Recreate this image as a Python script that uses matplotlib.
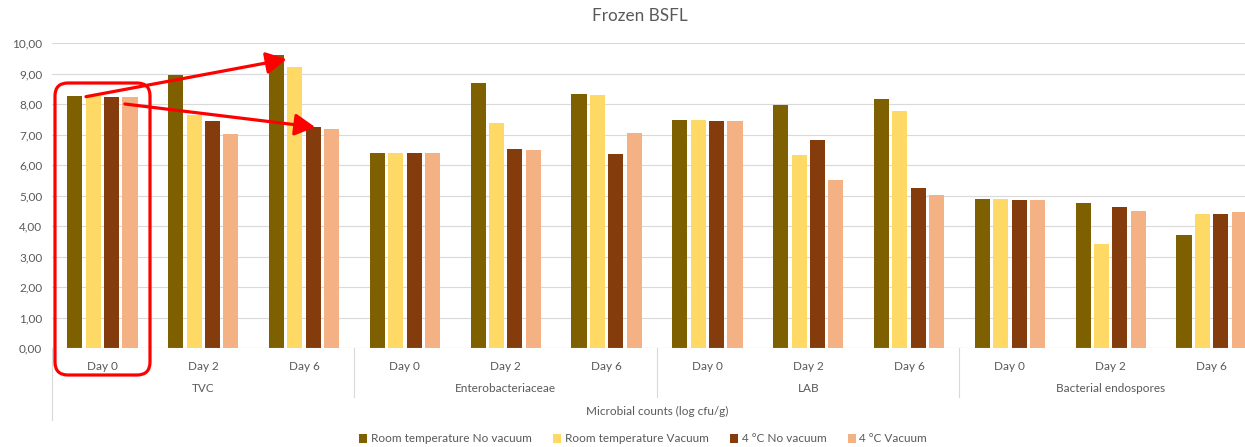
import matplotlib
matplotlib.use('Agg')
import matplotlib.pyplot as plt
from matplotlib.patches import FancyBboxPatch
from matplotlib.transforms import IdentityTransform, blended_transform_factory
import numpy as np

plt.rcParams['font.family'] = ['Lato', 'DejaVu Sans']

# data
days = ['Day 0', 'Day 2', 'Day 6']
microbes = ['TVC', 'Enterobacteriaceae', 'LAB', 'Bacterial endospores']
series_names = ['Room temperature No vacuum', 'Room temperature Vacuum',
                '4 °C No vacuum', '4 °C Vacuum']
rt_novac = [8.27, 8.94, 9.61, 6.40, 8.69, 8.32, 7.46, 7.97, 8.17, 4.87, 4.75, 3.71]
rt_vac = [8.26, 7.65, 9.21, 6.40, 7.37, 8.28, 7.46, 6.33, 7.76, 4.87, 3.42, 4.39]
c4_novac = [8.24, 7.43, 7.24, 6.38, 6.54, 6.36, 7.43, 6.82, 5.24, 4.84, 4.62, 4.39]
c4_vac = [8.23, 7.03, 7.19, 6.38, 6.50, 7.06, 7.43, 5.50, 5.01, 4.84, 4.48, 4.47]
colors = ['#7F6000', '#FFD966', '#843C0C', '#F4B183']

grey = '#595959'
W, H = 1245, 447
fig = plt.figure(figsize=(W/100, H/100), dpi=100)
# the screenshot cuts the plot on the right, so the axes run past the figure edge
ax = fig.add_axes([52/W, (H-348)/H, 1210/W, 305/H])

n = len(days)*len(microbes)
x = np.arange(n)
step = 0.182
allvals = [rt_novac, rt_vac, c4_novac, c4_vac]
for i, vals in enumerate(allvals):
  ax.bar(x + (i-1.5)*step, vals, width=0.15, color=colors[i], label=series_names[i], zorder=3)

ax.set_xlim(-0.5, n-0.5)
ax.set_ylim(0, 10)
ax.set_yticks(np.arange(0, 11, 1))
ax.set_yticklabels(['%d,00' % v for v in range(11)], fontsize=8.5, color=grey)
ax.yaxis.grid(True, color='#d9d9d9', lw=0.8, zorder=0)
ax.tick_params(axis='y', length=0, pad=7)
for s in ax.spines.values():
  s.set_visible(False)
ax.axhline(0, color='#d9d9d9', lw=0.8, zorder=4)

ax.set_xticks(x)
ax.set_xticklabels(days*len(microbes), fontsize=8.5, color=grey)
ax.tick_params(axis='x', length=0, pad=9)

# multi-level category axis
tr = blended_transform_factory(ax.transData, ax.transAxes)
ax.plot([-0.5, -0.5], [0, -72/305], transform=tr, color='#d9d9d9', lw=0.8, clip_on=False)
for b in [2.5, 5.5, 8.5, 11.5]:
  ax.plot([b, b], [0, -49/305], transform=tr, color='#d9d9d9', lw=0.8, clip_on=False)
for j, m in enumerate(microbes):
  ax.text(3*j+1, -40/305, m, transform=tr, ha='center', va='center', fontsize=8.5, color=grey)
ax.text((n-1)/2, -63/305, 'Microbial counts (log cfu/g)', transform=tr,
        ha='center', va='center', fontsize=8.5, color=grey)

fig.text(640/W, 1-16/H, 'Frozen BSFL', ha='center', va='center', fontsize=12.3, color=grey)

leg = fig.legend(loc='center', bbox_to_anchor=(643/W, 1-439/H), ncol=4, frameon=False,
                 fontsize=8.5, handlelength=0.7, handleheight=0.7, handletextpad=0.3,
                 columnspacing=1.8, borderpad=0)
for t in leg.get_texts():
  t.set_color(grey)

# red annotations: box round TVC day 0 and two arrows
box = FancyBboxPatch((55, H-375), 95, 292, boxstyle='round,pad=0,rounding_size=13',
                     transform=IdentityTransform(), fill=False, ec='red', lw=2.3,
                     zorder=10, clip_on=False)
fig.patches.append(box)
aprops = dict(arrowstyle='-|>,head_length=0.65,head_width=0.35', color='red', lw=2.3,
              mutation_scale=19, shrinkA=0, shrinkB=0)
ax.annotate('', xy=(2-1.5*step+0.1, rt_novac[2]-0.14), xytext=(-1.5*step+0.11, rt_novac[0]-0.03),
            arrowprops=aprops, zorder=10)
ax.annotate('', xy=(2+0.5*step+0.02, c4_novac[2]), xytext=(1.5*step-0.05, c4_vac[0]-0.23),
            arrowprops=aprops, zorder=10)

fig.savefig('out.png', dpi=100)
